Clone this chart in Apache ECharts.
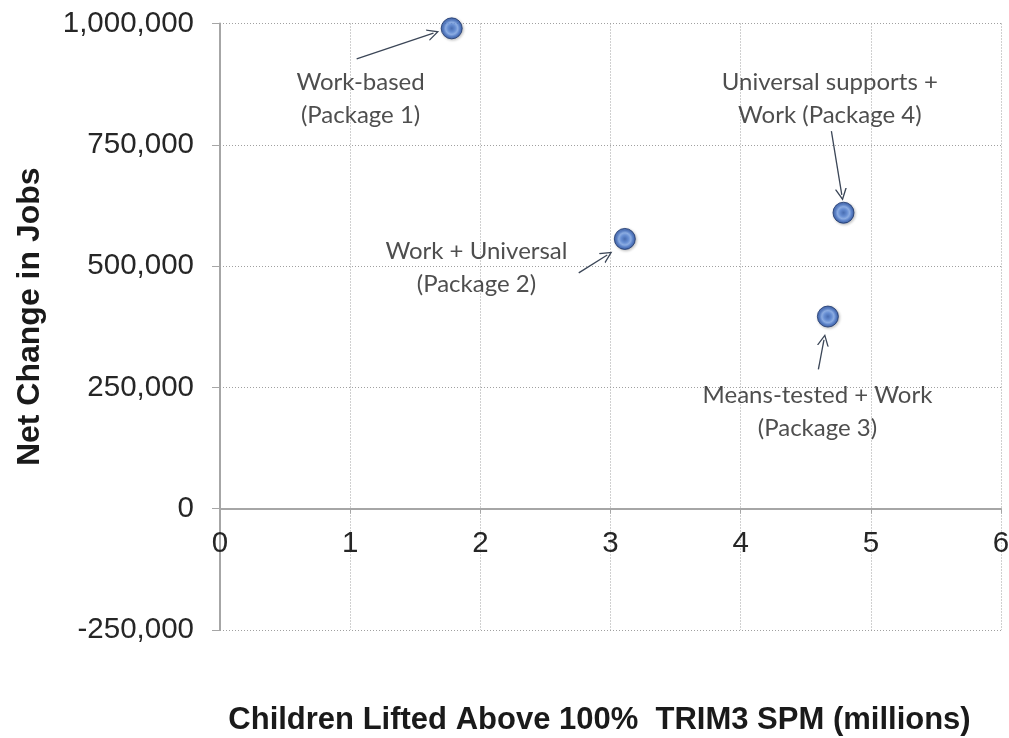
<!DOCTYPE html>
<html>
<head>
<meta charset="utf-8">
<script src="https://cdn.jsdelivr.net/npm/echarts@6/dist/echarts.min.js"></script>
<style>
html,body{margin:0;padding:0;background:#fff;}
#chart{width:1009px;height:738px;}
</style>
</head>
<body>
<div id="chart"></div>
<script>
// Data
const packages = ['Work-based (Package 1)', 'Work + Universal (Package 2)', 'Means-tested + Work (Package 3)', 'Universal supports + Work (Package 4)'];
const childrenLifted = [1.78, 3.11, 4.67, 4.79];
const jobChange = [990000, 556000, 396000, 610000];
const xTicks = [0, 1, 2, 3, 4, 5, 6];
const yTicks = [-250000, 0, 250000, 500000, 750000, 1000000];

// Annotation callouts (in data coordinates)
const calloutText = ['Work-based\n(Package 1)', 'Work + Universal\n(Package 2)', 'Means-tested + Work\n(Package 3)', 'Universal supports +\nWork (Package 4)'];
const calloutX = [1.08, 1.97, 4.59, 4.685];
const calloutY = [845000, 497000, 200000, 845000];
const arrowFrom = [[1.05, 927000], [2.756, 486000], [4.597, 287000], [4.697, 778000]];
const arrowTo = [[1.64, 980000], [2.975, 523000], [4.64, 348000], [4.777, 647000]];

const chart = echarts.init(document.getElementById('chart'));
const fmt = v => v.toLocaleString('en-US');
const arrowPath = 'path://M0,10 L5,0 L10,10 L8.8,10 L5,2.4 L1.2,10 Z';

chart.setOption({
  animation: false,
  grid: { left: 220, right: 8, top: 23.5, bottom: 108, containLabel: false, outerBoundsMode: 'none' },
  xAxis: {
    type: 'value', min: xTicks[0], max: xTicks[xTicks.length - 1], interval: 1,
    name: 'Children Lifted Above 100%  TRIM3 SPM (millions)',
    nameLocation: 'middle', nameGap: 196,
    nameTextStyle: { fontFamily: 'Liberation Sans', fontWeight: 'bold', fontSize: 31, color: '#1a1a1a', padding: [0, 22, 0, 0] },
    axisLine: { onZero: false, lineStyle: { color: '#a6a6a6', width: 2 } },
    axisTick: { show: true, length: 5, lineStyle: { color: '#a6a6a6' } },
    axisLabel: { fontFamily: 'Liberation Sans', fontSize: 29.5, color: '#262626', margin: 20 },
    splitLine: { show: true, lineStyle: { color: '#a0a0a0', type: [1, 2], width: 1 } }
  },
  yAxis: {
    type: 'value', min: yTicks[0], max: yTicks[yTicks.length - 1], interval: 250000,
    name: 'Net Change in Jobs',
    nameLocation: 'middle', nameGap: 174,
    nameTextStyle: { fontFamily: 'Liberation Sans', fontWeight: 'bold', fontSize: 32, color: '#1a1a1a', padding: [0, 0, 0, 20] },
    axisLine: { show: true, onZero: false, lineStyle: { color: '#a6a6a6', width: 2 } },
    axisTick: { show: true, length: 8, lineStyle: { color: '#a6a6a6' } },
    axisLabel: { fontFamily: 'Liberation Sans', fontSize: 29.5, color: '#262626', margin: 26, formatter: fmt },
    splitLine: { show: true, lineStyle: { color: '#a0a0a0', type: [1, 2], width: 1 } }
  },
  series: [
    {
      type: 'scatter',
      name: 'arrows',
      data: [],
      silent: true,
      markLine: {
        silent: true,
        animation: false,
        symbol: ['none', arrowPath],
        symbolSize: 12,
        label: { show: false },
        lineStyle: { color: '#3b4657', width: 1.3, type: 'solid' },
        itemStyle: { color: '#3b4657' },
        emphasis: { disabled: true },
        data: arrowFrom.map((f, i) => [{ coord: f }, { coord: arrowTo[i] }])
      }
    },
    {
      type: 'scatter',
      name: 'Packages',
      data: childrenLifted.map((x, i) => ({ value: [x, jobChange[i]], name: packages[i] })),
      symbolSize: 21,
      itemStyle: {
        color: {
          type: 'radial', x: 0.5, y: 0.5, r: 0.55,
          colorStops: [
            { offset: 0, color: '#2a58ad' },
            { offset: 0.3, color: '#4f80d6' },
            { offset: 0.5, color: '#7ea7ea' },
            { offset: 0.7, color: '#3a6bc6' },
            { offset: 1, color: '#1b3c82' }
          ]
        },
        borderColor: '#19346e', borderWidth: 1,
        shadowColor: 'rgba(0,0,0,0.3)', shadowBlur: 3, shadowOffsetX: 1, shadowOffsetY: 1
      },
      z: 5
    },
    {
      type: 'scatter',
      name: 'callouts',
      silent: true,
      symbolSize: 0,
      data: calloutText.map((t, i) => ({ value: [calloutX[i], calloutY[i]], name: t })),
      label: {
        show: true, position: 'inside', formatter: p => p.name,
        fontFamily: 'Lato', fontSize: 24, lineHeight: 33, color: '#222222', align: 'center'
      }
    }
  ]
});

// Place the x axis (line, ticks, labels, title) at y = 0 using the library's own scale
const zeroPx = chart.convertToPixel({ yAxisIndex: 0 }, 0);
const bottomPx = chart.convertToPixel({ yAxisIndex: 0 }, yTicks[0]);
chart.setOption({ xAxis: { offset: zeroPx - bottomPx } });
</script>
</body>
</html>
